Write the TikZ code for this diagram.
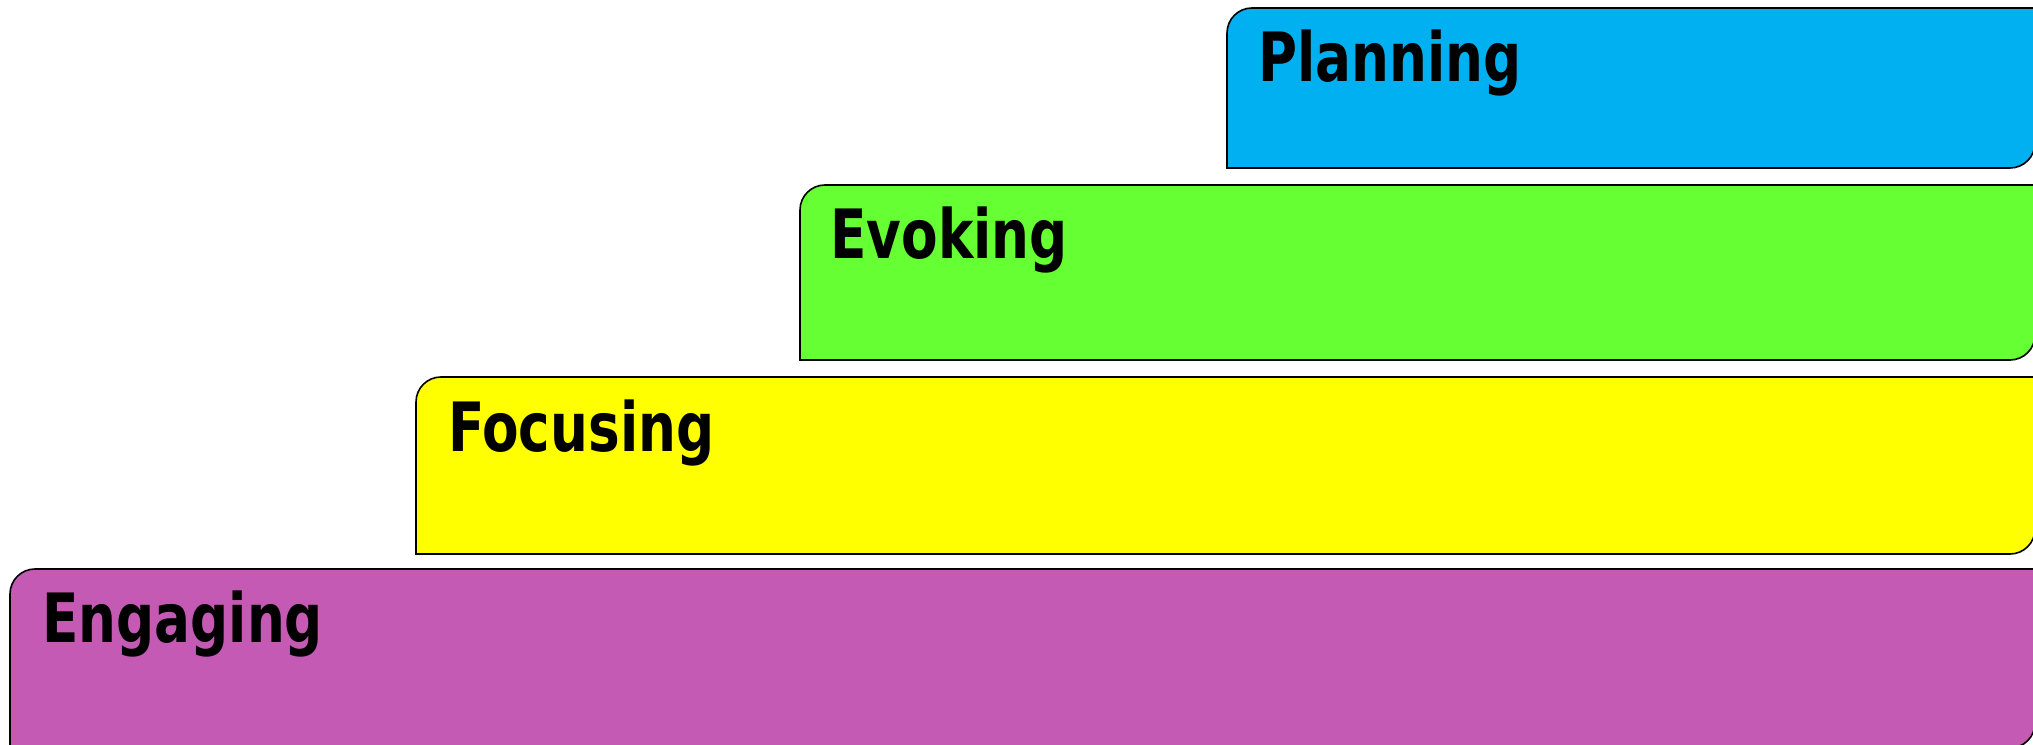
\documentclass[tikz,border=0pt]{standalone}
\usepackage{fontspec}
\newfontfamily\stagefont{DejaVu Sans Condensed}[FakeStretch=0.87]
\usepackage{xcolor}
\usepackage{tikz}

\definecolor{planblue}{HTML}{00B0F0}
\definecolor{evokegreen}{HTML}{66FF33}
\definecolor{focusyellow}{HTML}{FFFF00}
\definecolor{engagepurple}{HTML}{C45AB3}

\tikzset{
  stage/.style={draw=black, line width=0.8pt},
  stagelabel/.style={anchor=base west, inner sep=0pt, font=\stagefont\bfseries\fontsize{34}{40}\selectfont}
}

\begin{document}
\begin{tikzpicture}[x=0.5pt,y=0.5pt]
		\useasboundingbox (0,0) rectangle (2033,744);
		% steps, bottom to top
		\draw[stage, fill=engagepurple] (10,-4) -- (10,150) arc[start angle=180, end angle=90, radius=25] -- (2035,175) -- (2035,21) arc[start angle=0, end angle=-90, radius=25] -- cycle;
		\draw[stage, fill=focusyellow] (416,190) -- (416,342) arc[start angle=180, end angle=90, radius=25] -- (2035,367) -- (2035,215) arc[start angle=0, end angle=-90, radius=25] -- cycle;
		\draw[stage, fill=evokegreen] (800,384) -- (800,534) arc[start angle=180, end angle=90, radius=25] -- (2035,559) -- (2035,409) arc[start angle=0, end angle=-90, radius=25] -- cycle;
		\draw[stage, fill=planblue] (1227,576) -- (1227,711) arc[start angle=180, end angle=90, radius=25] -- (2035,736) -- (2035,601) arc[start angle=0, end angle=-90, radius=25] -- cycle;
		%
		\node[stagelabel] (engaging) at (42,102) {Engaging};
		\node[stagelabel] (focusing) at (448,292) {Focusing};
		\node[stagelabel] (evoking) at (830,485) {Evoking};
		\node[stagelabel] (planning) at (1258,662) {Planning};
\end{tikzpicture}
\end{document}
